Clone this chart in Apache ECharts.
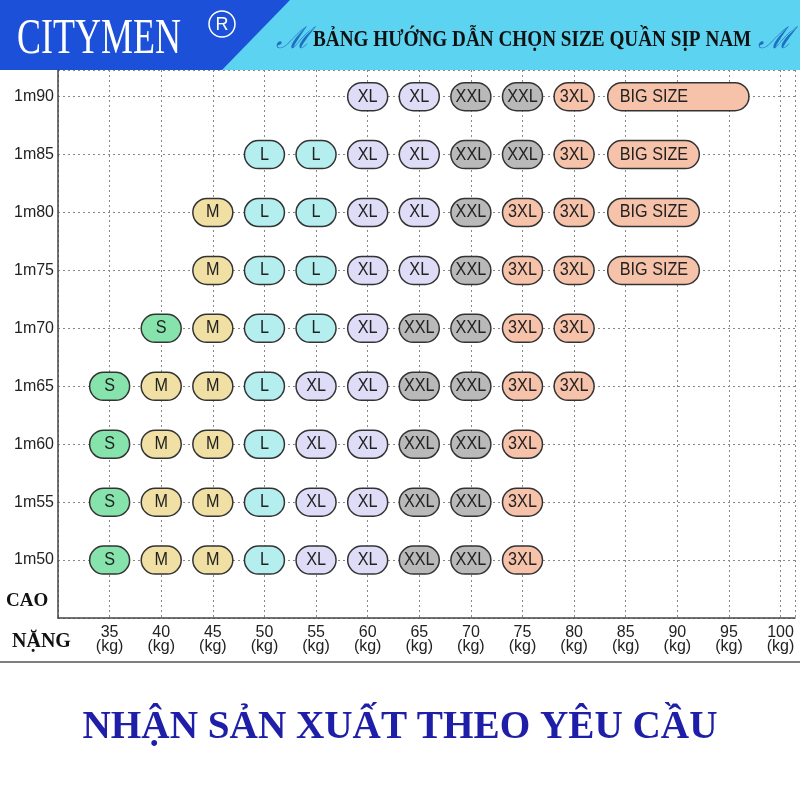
<!DOCTYPE html>
<html><head><meta charset="utf-8">
<script src="https://cdn.jsdelivr.net/npm/echarts@6/dist/echarts.min.js"></script>
<style>html,body{margin:0;padding:0;background:#fff}#c{width:800px;height:800px}</style>
</head><body><div id="c"></div>
<script>
const weightTicks = [35,40,45,50,55,60,65,70,75,80,85,90,95,100];
const heightTicks = [150,155,160,165,170,175,180,185,190];
const sizeColors = {S:'#86e3ac', M:'#f1e0a4', L:'#b4eeee', XL:'#dedcf6', XXL:'#b9b9b9', '3XL':'#f6c2aa', 'BIG SIZE':'#f6c2aa'};
const row190 = ['XL','XL','XXL','XXL','3XL'];
const row185 = ['L','L','XL','XL','XXL','XXL','3XL'];
const row180 = ['M','L','L','XL','XL','XXL','3XL','3XL'];
const row175 = ['M','L','L','XL','XL','XXL','3XL','3XL'];
const row170 = ['S','M','L','L','XL','XXL','XXL','3XL','3XL'];
const row165 = ['S','M','M','L','XL','XL','XXL','XXL','3XL','3XL'];
const row160 = ['S','M','M','L','XL','XL','XXL','XXL','3XL'];
const row155 = ['S','M','M','L','XL','XL','XXL','XXL','3XL'];
const row150 = ['S','M','M','L','XL','XL','XXL','XXL','3XL'];
const rows = [[190,60,row190],[185,50,row185],[180,45,row180],[175,45,row175],[170,40,row170],[165,35,row165],[160,35,row160],[155,35,row155],[150,35,row150]];
const bigSizes = [[190,85,95],[185,85,90],[180,85,90],[175,85,90]];

const data = [];
rows.forEach(([h,w0,sizes])=>sizes.forEach((s,i)=>data.push([w0+5*i,w0+5*i,h,s])));
bigSizes.forEach(([h,a,b])=>data.push([a,b,h,'BIG SIZE']));

const chart = echarts.init(document.getElementById('c'));
chart.setOption({
  animation:false,
  grid:{left:58,right:5,top:70,bottom:182},
  xAxis:{type:'value',min:30,max:101.4,interval:5,
    axisLine:{show:true,onZero:false,lineStyle:{color:'#444',width:1.5}},axisTick:{show:false},
    splitLine:{show:true,lineStyle:{type:[2,3],color:'#888'}},
    axisLabel:{fontFamily:'Liberation Sans',fontSize:16,color:'#222',lineHeight:14,margin:8,
      showMinLabel:false,showMaxLabel:false,
      formatter:v=>weightTicks.includes(v)?v+'\n(kg)':''},
  },
  yAxis:{type:'value',min:145,max:192.3,interval:5,
    axisLine:{show:true,lineStyle:{color:'#444',width:1.5}},axisTick:{show:false},
    splitLine:{show:true,lineStyle:{type:[2,3],color:'#888'}},
    axisLabel:{fontFamily:'Liberation Sans',fontSize:16,color:'#222',margin:4,
      formatter:v=>heightTicks.includes(v)?'1m'+String(v-100):''}},
  series:[{type:'custom',data:data,clip:false,
    renderItem:(p,api)=>{
      const a=api.coord([api.value(0),api.value(2)]), b=api.coord([api.value(1),api.value(2)]);
      const lab=data[p.dataIndex][3];
      const padL = lab==='BIG SIZE'?18:20, padR= lab==='BIG SIZE'? (api.value(1)-api.value(0)>5?20:22):20;
      const x0=a[0]-padL, x1=b[0]+padR, h=28;
      return {type:'group',children:[
        {type:'rect',shape:{x:x0,y:a[1]-h/2,width:x1-x0,height:h,r:14},
         style:{fill:sizeColors[lab],stroke:'#333',lineWidth:1.5}},
        {type:'text',x:lab==='BIG SIZE'?x0+12:(x0+x1)/2,y:a[1],scaleX:0.9,style:{text:lab,x:0,y:0,
          align:lab==='BIG SIZE'?'left':'center',verticalAlign:'middle',
          font:'18px "Liberation Sans"',fill:'#222'}}]};
    }}],
  graphic:[
    {type:'polygon',shape:{points:[[0,0],[800,0],[800,70],[0,70]]},style:{fill:'#5bd3f1'}},
    {type:'polygon',shape:{points:[[0,0],[290,0],[222,70],[0,70]]},style:{fill:'#1c50d8'}},
    {type:'text',x:17,y:40,scaleX:0.72,style:{text:'CITYMEN',x:0,y:0,verticalAlign:'middle',font:'50px "Liberation Serif"',fill:'#fff'}},
    {type:'circle',shape:{cx:222,cy:24,r:13},style:{fill:'none',stroke:'#fff',lineWidth:1.5}},
    {type:'text',style:{text:'R',x:222,y:25,align:'center',verticalAlign:'middle',font:'18px "Liberation Sans"',fill:'#fff'}},
    {type:'text',style:{text:'ℳ',x:276,y:40,verticalAlign:'middle',font:'italic 30px "DejaVu Serif"',fill:'#1f6fc0'}},
    {type:'text',style:{text:'ℳ',x:758,y:40,verticalAlign:'middle',font:'italic 30px "DejaVu Serif"',fill:'#1f6fc0'}},
    {type:'text',x:313,y:40,scaleX:0.8,style:{text:'BẢNG HƯỚNG DẪN CHỌN SIZE QUẦN SỊP NAM',x:0,y:0,verticalAlign:'middle',
      font:'bold 24px "Liberation Serif"',fill:'#111'}},
    {type:'text',style:{text:'CAO',x:6,y:601,verticalAlign:'middle',font:'bold 19px "Liberation Serif"',fill:'#111'}},
    {type:'text',style:{text:'NẶNG',x:12,y:642,verticalAlign:'middle',font:'bold 20px "Liberation Serif"',fill:'#111'}},
    {type:'line',shape:{x1:0,y1:662,x2:800,y2:662},style:{stroke:'#555',lineWidth:1.5}},
    {type:'text',x:400,y:728,scaleX:0.98,style:{text:'NHẬN SẢN XUẤT THEO YÊU CẦU',x:0,y:0,align:'center',verticalAlign:'middle',
      font:'bold 40px "Liberation Serif"',fill:'#1e1ea8'}}
  ]
});
</script></body></html>
